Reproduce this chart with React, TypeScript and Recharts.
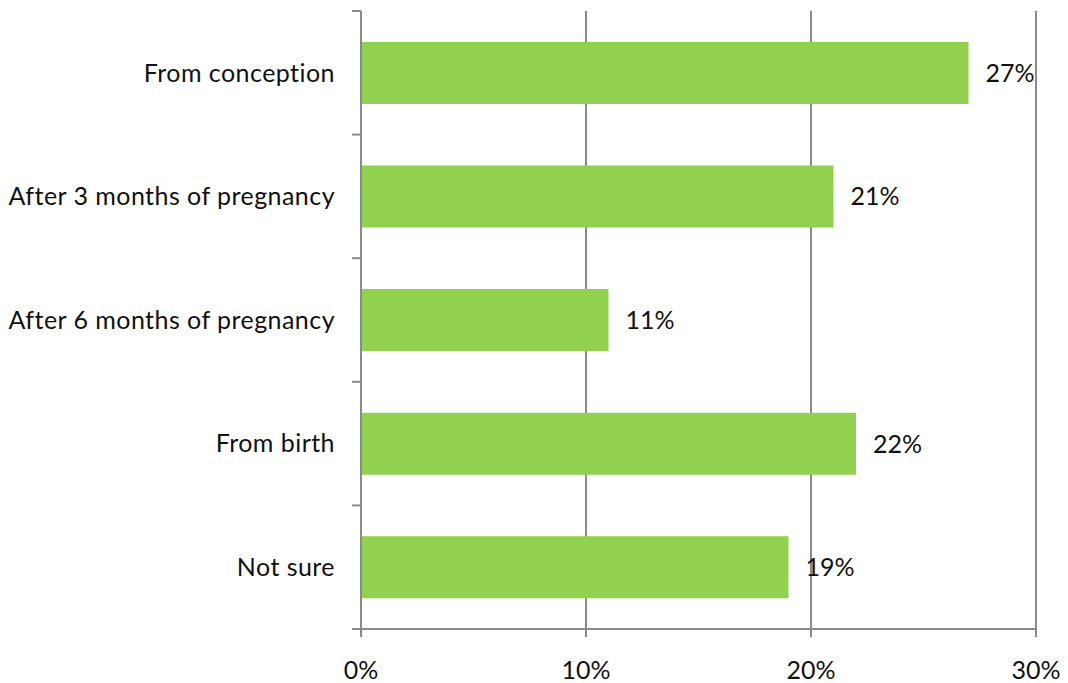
import { BarChart, Bar, XAxis, YAxis, CartesianGrid, LabelList } from "recharts";

const categories = [
  "From conception",
  "After 3 months of pregnancy",
  "After 6 months of pregnancy",
  "From birth",
  "Not sure",
];
const shares = [27, 21, 11, 22, 19];
const xTicks = [0, 10, 20, 30];

const AXIS = "#8a8a8a";
const FONT = "Lato, 'Open Sans', sans-serif";
const FS = 25;

const data = categories.map((name, i) => ({ name, value: shares[i] }));

// category label plus tick marks at the band edges (like the Excel source)
function CatTick(props: any) {
  const { x, y, payload, index, visibleTicksCount } = props;
  const half = payload.offset ?? 0;
  const last = index === visibleTicksCount - 1;
  return (
    <g>
      <line x1={x + 17} x2={x + 26} y1={y - half} y2={y - half} stroke={AXIS} strokeWidth={2} />
      {last && (
        <line x1={x + 17} x2={x + 26} y1={y + half} y2={y + half} stroke={AXIS} strokeWidth={2} />
      )}
      <text
        x={x}
        y={y}
        dy="0.35em"
        textAnchor="end"
        fill="#111"
        fontSize={FS}
        fontFamily={FONT}
        letterSpacing={0.45}
      >
        {payload.value}
      </text>
    </g>
  );
}

export default function App() {
  return (
    <div style={{ position: "absolute", left: 0, top: 0, background: "#fff" }}>
      <BarChart
        width={1068}
        height={683}
        data={data}
        layout="vertical"
        margin={{ top: 11, right: 32, left: 0, bottom: 0 }}
        barCategoryGap="25%"
      >
        <CartesianGrid horizontal={false} stroke={AXIS} strokeWidth={2} />
        <XAxis
          type="number"
          domain={[0, 30]}
          ticks={xTicks}
          tickFormatter={(v) => `${v}%`}
          height={54}
          stroke={AXIS}
          strokeWidth={2}
          tickSize={8}
          tickMargin={24}
          tick={{ fill: "#111", fontSize: FS, fontFamily: FONT }}
        />
        <YAxis
          type="category"
          dataKey="name"
          width={361}
          stroke={AXIS}
          strokeWidth={2}
          tickLine={false}
          tickSize={0}
          tickMargin={26}
          tick={<CatTick />}
          interval={0}
        />
        <Bar dataKey="value" fill="#92d050" isAnimationActive={false}>
          <LabelList
            dataKey="value"
            position="right"
            offset={17}
            formatter={(v: any) => `${v}%`}
            style={{ fill: "#111", fontSize: FS, fontFamily: FONT }}
          />
        </Bar>
      </BarChart>
    </div>
  );
}
